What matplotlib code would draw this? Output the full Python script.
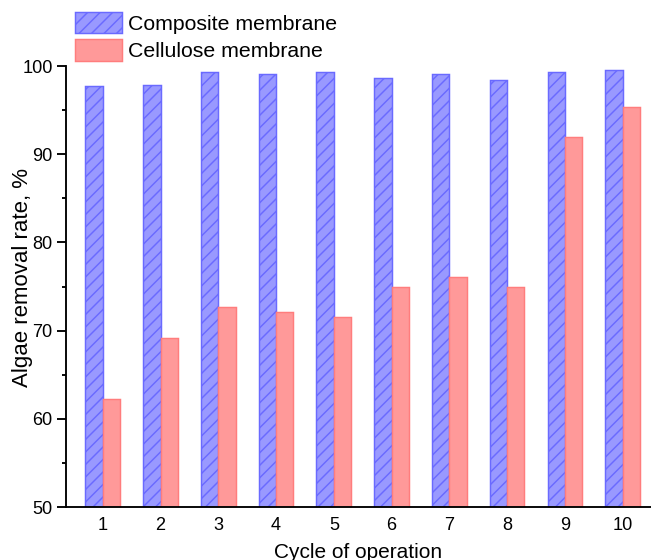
import matplotlib.pyplot as plt
import numpy as np
from matplotlib.ticker import MultipleLocator

plt.rcParams["font.family"] = ["Liberation Sans", "DejaVu Sans"]
# dpi 150 so that "////" hatch spacing matches the reference (~12 px)
plt.rcParams["hatch.color"] = "#4343dd"
plt.rcParams["hatch.linewidth"] = 0.7

cycles = [1, 2, 3, 4, 5, 6, 7, 8, 9, 10]
composite = [97.7, 97.9, 99.3, 99.1, 99.3, 98.6, 99.1, 98.4, 99.3, 99.5]
cellulose = [62.2, 69.2, 72.7, 72.1, 71.5, 75.0, 76.1, 75.0, 91.9, 95.3]
labels = ["Composite membrane", "Cellulose membrane"]


def main():
    fig = plt.figure(figsize=(651 / 150, 560 / 150), dpi=150)
    ax = fig.add_axes([0.101, 0.0946, 0.899, 0.7875])

    x = np.array(cycles)
    w = 0.3
    b1 = ax.bar(x - w / 2, composite, w, color="#9999ff", edgecolor="#6a6aff",
                linewidth=0.7, hatch="////", label=labels[0])
    b2 = ax.bar(x + w / 2, cellulose, w, color="#ff9999", edgecolor="#ff7d7d",
                linewidth=0.7, label=labels[1])

    # Оси
    ax.set_xlim(0.36, 10.49)
    ax.set_ylim(50, 100)
    ax.set_xticks(cycles)
    ax.yaxis.set_major_locator(MultipleLocator(10))
    ax.yaxis.set_minor_locator(MultipleLocator(5))
    ax.tick_params(axis="x", length=0, pad=5, labelsize=8.7)
    ax.tick_params(axis="y", which="major", direction="out", length=4.3, width=0.9,
                   pad=2, labelsize=8.7)
    ax.tick_params(axis="y", which="minor", direction="out", length=2, width=0.9)
    ax.spines["top"].set_visible(False)
    ax.spines["right"].set_visible(False)
    ax.spines["left"].set_linewidth(0.9)
    ax.spines["bottom"].set_linewidth(0.9)

    ax.set_ylabel("Algae removal rate, %", fontsize=10.7)
    ax.yaxis.set_label_coords(-0.056, 0.52)
    ax.set_xlabel("Cycle of operation", fontsize=10, labelpad=4)

    fig.legend(handles=[b1, b2], loc="upper left", bbox_to_anchor=(0.097, 1.0),
               frameon=False, fontsize=10.2, handlelength=2.2, handleheight=1.2,
               labelspacing=0.25, handletextpad=0.3, borderaxespad=0.15)

    fig.savefig("out.png", dpi=150)


main()
